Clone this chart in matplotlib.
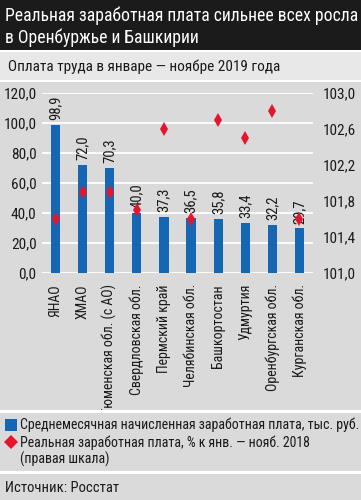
import matplotlib
matplotlib.use("Agg")
import matplotlib.pyplot as plt
from matplotlib.patches import Rectangle
from matplotlib.lines import Line2D
import numpy as np

plt.rcParams['font.family'] = ['Roboto Condensed', 'DejaVu Sans']

categories = ['ЯНАО', 'ХМАО', 'Тюменская обл. (с АО)', 'Свердловская обл.',
              'Пермский край', 'Челябинская обл.', 'Башкортостан', 'Удмуртия',
              'Оренбургская обл.', 'Курганская обл.']
salary = [98.9, 72.0, 70.3, 40.0, 37.3, 36.5, 35.8, 33.4, 32.2, 29.7]
real_growth = [101.6, 101.9, 101.9, 101.7, 102.6, 101.6, 102.7, 102.5, 102.8, 101.6]
left_ticks = [0, 20, 40, 60, 80, 100, 120]
right_ticks = [101.0, 101.4, 101.8, 102.2, 102.6, 103.0]

blue = '#1667b3'
red = '#e3162d'
bg = '#dadada'
ink = '#1a1a1a'

W, H = 361, 500
fig = plt.figure(figsize=(W / 100, H / 100), dpi=100)
fig.patch.set_facecolor(bg)

def band(y0, y1, color, z=10):
    # y in pixels from top
    fig.add_artist(Rectangle((0, 1 - y1 / H), 1, (y1 - y0) / H,
                             transform=fig.transFigure, facecolor=color,
                             edgecolor='none', zorder=z))

band(0, 50, '#1b1b1b')
band(50, 52, 'white')
band(52, 80, '#e8e8e8')
band(80, 82, 'white')
band(410, 413, 'white')
band(413, 471, bg)
band(471, 474, 'white')
band(474, 500, bg)

fig.text(5 / W, 1 - 21 / H, 'Реальная заработная плата сильнее всех росла',
         color='white', fontsize=12.7, va='baseline', zorder=11)
fig.text(5 / W, 1 - 43 / H, 'в Оренбуржье и Башкирии',
         color='white', fontsize=12.7, va='baseline', zorder=11)
fig.text(8 / W, 1 - 71 / H, 'Оплата труда в январе — ноябре 2019 года',
         color=ink, fontsize=11, va='baseline', zorder=11)

ax = fig.add_axes([42 / W, 1 - 273 / H, (313 - 42) / W, 180 / H])
ax.set_facecolor('none')
x = np.arange(len(categories))
ax.bar(x, salary, width=0.34, color=blue, zorder=3)
for xi, v in zip(x, salary):
    ax.text(xi, v + 3.2, f'{v:.1f}'.replace('.', ','), rotation=90,
            ha='center', va='bottom', fontsize=10.5, color=ink, zorder=4)
ax.set_ylim(0, 120)
ax.set_xlim(-0.5, len(categories) - 0.5)
ax.set_yticks(left_ticks)
ax.set_yticklabels([f'{t:.1f}'.replace('.', ',') for t in left_ticks])
ax.grid(axis='y', color='white', linewidth=1.3, zorder=0)
ax.set_axisbelow(True)
ax.set_xticks(x)
ax.set_xticklabels(categories, rotation=90, fontsize=10, va='top', ha='center')
ax.tick_params(length=0, labelsize=11, colors=ink)
ax.tick_params(axis='x', pad=8, labelsize=10)
ax.tick_params(axis='y', pad=4)
for s in ax.spines.values():
    s.set_visible(False)

ax2 = ax.twinx()
ax2.plot(x, real_growth, linestyle='none', marker='d', markersize=7,
         markeredgewidth=0, color=red, zorder=5)
ax2.set_ylim(101.0, 103.0)
ax2.set_yticks(right_ticks)
ax2.set_yticklabels([f'{t:.1f}'.replace('.', ',') for t in right_ticks])
ax2.tick_params(length=0, labelsize=11, colors=ink, pad=7)
for s in ax2.spines.values():
    s.set_visible(False)

# legend
fig.add_artist(Rectangle((5 / W, 1 - 431 / H), 12 / W, 12 / H,
                         transform=fig.transFigure, facecolor=blue,
                         edgecolor='none', zorder=12))
fig.text(20 / W, 1 - 429.5 / H, 'Среднемесячная начисленная заработная плата, тыс. руб.',
         fontsize=10, va='baseline', color=ink, zorder=12)
fig.add_artist(Line2D([11 / W], [1 - 442 / H], transform=fig.transFigure,
                      marker='D', markersize=7, color=red, markeredgewidth=0,
                      zorder=12))
fig.text(20 / W, 1 - 447 / H, 'Реальная заработная плата, % к янв. — нояб. 2018',
         fontsize=10, va='baseline', color=ink, zorder=12)
fig.text(20 / W, 1 - 464 / H, '(правая шкала)',
         fontsize=10, va='baseline', color=ink, zorder=12)
fig.text(5 / W, 1 - 492 / H, 'Источник: Росстат',
         fontsize=10.5, va='baseline', color=ink, zorder=12)

fig.savefig('out.png', dpi=100, facecolor=fig.get_facecolor())
